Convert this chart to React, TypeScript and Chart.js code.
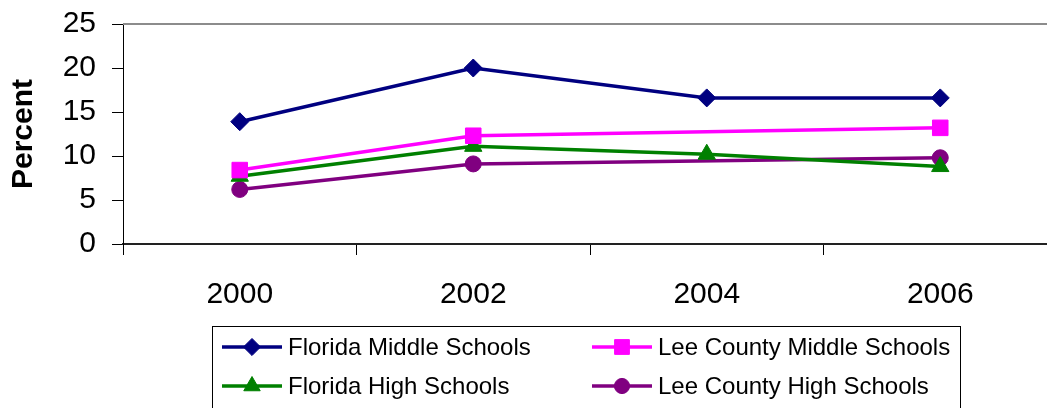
import React, { useEffect, useRef } from "react";
import { Chart, registerables } from "chart.js";
import { drawPoint } from "chart.js/helpers";

Chart.register(...registerables);

const years = ["2000", "2002", "2004", "2006"];
const floridaMiddle = [13.9, 20.0, 16.6, 16.6];
const leeMiddle = [8.4, 12.3, null, 13.2];
const floridaHigh = [7.7, 11.1, 10.2, 8.8];
const leeHigh = [6.2, 9.1, null, 9.8];
const yTicks = [0, 5, 10, 15, 20, 25];

const FONT = "'Liberation Sans', Arial, sans-serif";

const frameAndLegend = {
  id: "frameAndLegend",
  afterDraw(chart: any) {
    const ctx = chart.ctx;
    const a = chart.chartArea;
    ctx.save();
    // top frame line
    ctx.strokeStyle = "#8c8c8c";
    ctx.lineWidth = 2;
    ctx.beginPath();
    ctx.moveTo(a.left, a.top);
    ctx.lineTo(chart.width, a.top);
    ctx.stroke();

    // legend box
    const bx = 212.5, by = 326.5, bw = 748, bh = 120;
    ctx.strokeStyle = "#000";
    ctx.lineWidth = 1;
    ctx.strokeRect(bx, by, bw, bh);

    const cols = [222, 592];
    const rows = [347, 386];
    [0, 1, 2, 3].forEach((i, k) => {
      const ds = chart.data.datasets[i];
      const cx = cols[k % 2];
      const cy = rows[Math.floor(k / 2)];
      ctx.strokeStyle = ds.borderColor;
      ctx.lineWidth = 3.5;
      ctx.beginPath();
      ctx.moveTo(cx, cy);
      ctx.lineTo(cx + 60, cy);
      ctx.stroke();
      ctx.fillStyle = ds.backgroundColor;
      ctx.strokeStyle = ds.borderColor;
      ctx.lineWidth = 1;
      drawPoint(ctx, { pointStyle: ds.pointStyle, radius: ds.pointRadius * 0.95, borderWidth: 1, rotation: 0 } as any, cx + 30, cy);
      ctx.fillStyle = "#000";
      ctx.font = `24px ${FONT}`;
      ctx.textBaseline = "middle";
      ctx.textAlign = "left";
      ctx.fillText(ds.label, cx + 66, cy + 1);
    });
    ctx.restore();
  },
};

export default function App() {
  const ref = useRef<HTMLCanvasElement>(null);
  useEffect(() => {
    if (!ref.current) return;
    const mk = (label: string, data: any[], color: string, style: string, r: number) => ({
      label,
      data,
      borderColor: color,
      backgroundColor: color,
      borderWidth: 3.5,
      pointStyle: style,
      pointRadius: r,
      pointHoverRadius: r,
      pointBorderWidth: 1,
      spanGaps: true,
      tension: 0,
    });
    const chart = new Chart(ref.current, {
      type: "line",
      data: {
        labels: years,
        datasets: [
          mk("Florida Middle Schools", floridaMiddle, "#000080", "rectRot", 9),
          mk("Lee County Middle Schools", leeMiddle, "#FF00FF", "rect", 11),
          mk("Florida High Schools", floridaHigh, "#008000", "triangle", 10),
          mk("Lee County High Schools", leeHigh, "#800080", "circle", 8),
        ],
      },
      options: {
        animation: false,
        responsive: false,
        events: [],
        layout: { padding: { left: 0, right: 18, top: 24, bottom: 0 } },
        plugins: { legend: { display: false }, tooltip: { enabled: false } },
        scales: {
          x: {
            offset: true,
            grid: {
              offset: true,
              drawOnChartArea: false,
              drawTicks: true,
              tickLength: 11,
              color: "#000",
            },
            border: { display: true, color: "#222", width: 2 },
            ticks: { color: "#000", font: { family: FONT, size: 30 }, padding: 22 },
            afterFit: (s: any) => { s.height = 164; },
          },
          y: {
            min: 0,
            max: 25,
            afterBuildTicks: (s: any) => { s.ticks = yTicks.map((v) => ({ value: v })); },
            grid: { drawOnChartArea: false, drawTicks: true, tickLength: 11, color: "#000" },
            border: { display: true, color: "#000", width: 1 },
            ticks: { color: "#000", font: { family: FONT, size: 30, lineHeight: 0.5 }, padding: 16 },
            title: {
              display: true,
              text: "Percent",
              color: "#000",
              font: { family: FONT, size: 30, weight: "bold" },
              padding: { top: 6, bottom: 0 },
            },
            afterFit: (s: any) => { s.width = 123; },
          },
        },
      },
      plugins: [frameAndLegend],
    });
    return () => chart.destroy();
  }, []);
  return (
    <div style={{ position: "fixed", left: 0, top: 0, width: 1047, height: 408, overflow: "hidden", background: "#fff" }}>
      <canvas ref={ref} width={1075} height={408} style={{ display: "block" }} />
    </div>
  );
}
